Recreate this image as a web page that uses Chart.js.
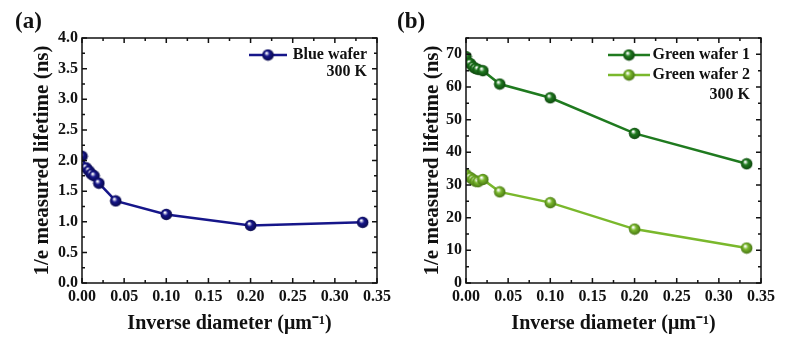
<!DOCTYPE html>
<html>
<head>
<meta charset="utf-8">
<script src="https://cdn.jsdelivr.net/npm/chart.js@4.4.0/dist/chart.umd.min.js"></script>
<style>
  body { margin: 0; background: #fff; }
  #wrap { position: relative; width: 790px; height: 350px; }
  canvas { position: absolute; top: 0; }
  #cA { left: 0; }
  #cB { left: 395px; }
  .tag { position: absolute; top: 8px; font: bold 23px 'Liberation Serif', serif; color: #111; }
</style>
</head>
<body>
<div id="wrap">
  <canvas id="cA" width="395" height="350"></canvas>
  <canvas id="cB" width="395" height="350"></canvas>
  <div class="tag" style="left:15px">(a)</div>
  <div class="tag" style="left:397px">(b)</div>
</div>
<script>
// inverse diameter (1/um)
const invDiameter = [0, 0.005, 0.0083, 0.0111, 0.0143, 0.02, 0.04, 0.1, 0.2, 0.333];
// 1/e measured lifetime (ns)
const blueWafer   = [2.07, 1.88, 1.83, 1.78, 1.75, 1.63, 1.34, 1.12, 0.94, 0.99];
const greenWafer1 = [69.3, 67.2, 66.2, 65.7, 65.4, 65.0, 60.9, 56.7, 45.8, 36.5];
const greenWafer2 = [33.3, 32.3, 31.7, 31.2, 31.0, 31.7, 27.9, 24.6, 16.5, 10.7];
const xTicks = [0, 0.35, 0.05];
const yTicksA = [0, 4, 0.5];
const yTicksB = [0, 75, 10];

Chart.defaults.font.family = "'Liberation Serif', 'Times New Roman', serif";
Chart.defaults.font.weight = 'bold';
Chart.defaults.color = '#111';

// shaded ball marker
function ball(color, dark) {
  const c = document.createElement('canvas');
  c.width = 13; c.height = 13;
  const g = c.getContext('2d');
  const grad = g.createRadialGradient(5, 4.5, 0.5, 6.5, 6.5, 6.5);
  grad.addColorStop(0, '#ffffff');
  grad.addColorStop(0.35, color);
  grad.addColorStop(1, dark);
  g.fillStyle = grad;
  g.beginPath(); g.arc(6.5, 6.5, 5.8, 0, Math.PI * 2); g.fill();
  return c;
}

function pts(ys) { return invDiameter.map((x, i) => ({ x: x, y: ys[i] })); }

// box + inward ticks on all four sides
const frame = {
  id: 'frame',
  afterDraw(chart) {
    const { ctx, chartArea: a, scales } = chart;
    ctx.save();
    ctx.strokeStyle = '#111';
    ctx.lineWidth = 1.5;
    ctx.strokeRect(a.left, a.top, a.right - a.left, a.bottom - a.top);
    const marks = (scale) => {
      const t = scale.ticks.map(k => k.value);
      const step = t[1] - t[0];
      const out = [];
      t.forEach(v => {
        out.push([v, 5]);
        if (v + step / 2 <= scale.max + 1e-9) out.push([v + step / 2, 3]);
      });
      return out;
    };
    ctx.beginPath();
    marks(scales.x).forEach(([v, len]) => {
      const p = scales.x.getPixelForValue(v);
      ctx.moveTo(p, a.bottom); ctx.lineTo(p, a.bottom - len);
      ctx.moveTo(p, a.top); ctx.lineTo(p, a.top + len);
    });
    marks(scales.y).forEach(([v, len]) => {
      const p = scales.y.getPixelForValue(v);
      ctx.moveTo(a.left, p); ctx.lineTo(a.left + len, p);
      ctx.moveTo(a.right, p); ctx.lineTo(a.right - len, p);
    });
    ctx.stroke();
    ctx.restore();
  }
};

// legend drawn inside the plot, top right
const boxLegend = {
  id: 'boxLegend',
  afterDraw(chart, args, opts) {
    const { ctx, chartArea: a } = chart;
    ctx.save();
    ctx.font = "bold 16px 'Liberation Serif', serif";
    ctx.textAlign = 'right';
    ctx.textBaseline = 'middle';
    ctx.fillStyle = '#111';
    chart.data.datasets.forEach((ds, i) => {
      const y = a.top + 17 + i * opts.gap;
      ctx.strokeStyle = ds.borderColor;
      ctx.lineWidth = 2.5;
      ctx.beginPath();
      ctx.moveTo(a.right - opts.lineStart, y);
      ctx.lineTo(a.right - opts.lineStart + opts.lineLen, y);
      ctx.stroke();
      const img = ds.pointStyle;
      ctx.drawImage(img, a.right - opts.lineStart + opts.lineLen / 2 - 6.5, y - 6.5);
      ctx.fillText(ds.label, a.right - opts.textRight, y);
    });
    ctx.fillText('300 K', a.right - opts.textRight, a.top + 17 + chart.data.datasets.length * opts.gap);
    ctx.restore();
  }
};

function makeChart(id, datasets, yt, yFmt, pad, yW, yTitleTop, legendOpts) {
  return new Chart(document.getElementById(id), {
    type: 'scatter',
    data: { datasets: datasets },
    plugins: [frame, boxLegend],
    options: {
      responsive: false,
      animation: false,
      devicePixelRatio: 1,
      layout: { padding: pad },
      plugins: { legend: { display: false }, tooltip: { enabled: false }, boxLegend: legendOpts },
      scales: {
        x: {
          type: 'linear', min: xTicks[0], max: xTicks[1],
          grid: { display: false, drawTicks: false }, border: { display: false },
          ticks: { stepSize: xTicks[2], font: { size: 16 }, padding: 4, maxRotation: 0,
                   callback: v => v.toFixed(2) },
          title: { display: true, text: 'Inverse diameter (\u03bcm\u207b\u00b9)',
                   font: { size: 20, weight: 'bold' }, padding: { top: 0, bottom: 14 } },
          afterFit: s => { s.height = 67; }
        },
        y: {
          type: 'linear', min: yt[0], max: yt[1],
          grid: { display: false, drawTicks: false }, border: { display: false },
          ticks: { stepSize: yt[2], font: { size: 16 }, padding: 4, includeBounds: false,
                   callback: v => v.toFixed(yFmt) },
          title: { display: true, text: '1/e measured lifetime (ns)',
                   font: { size: 21, weight: 'bold' }, padding: { top: yTitleTop, bottom: 0 } },
          afterFit: s => { s.width = yW; }
        }
      }
    }
  });
}

const line = (label, ys, color, dark) => ({
  label: label, data: pts(ys), showLine: true,
  borderColor: color, borderWidth: 2.5,
  pointStyle: ball(color, dark), pointRadius: 6
});

makeChart('cA', [line('Blue wafer', blueWafer, '#16168a', '#070740')],
  yTicksA, 1, { top: 38, right: 17, left: 0, bottom: 0 }, 82, 30,
  { gap: 17, lineStart: 128, lineLen: 38, textRight: 10 });

makeChart('cB', [line('Green wafer 1', greenWafer1, '#1f7a1f', '#0b3d0b'),
                 line('Green wafer 2', greenWafer2, '#7ab82c', '#3f6a10')],
  yTicksB, 0, { top: 38, right: 29, left: 0, bottom: 0 }, 71, 25,
  { gap: 20, lineStart: 153, lineLen: 42, textRight: 11 });
</script>
</body>
</html>
